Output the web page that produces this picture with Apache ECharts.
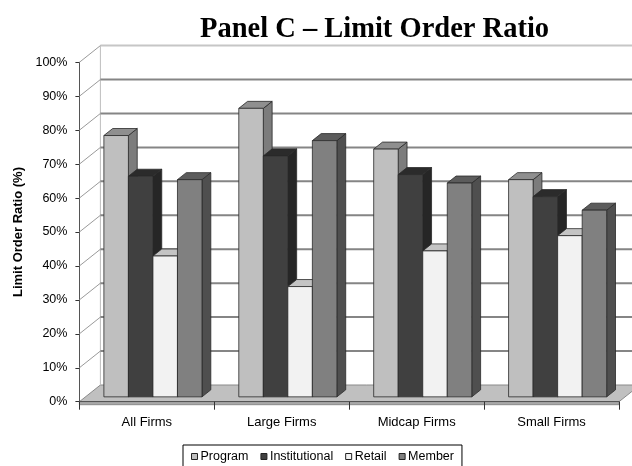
<!DOCTYPE html>
<html>
<head>
<meta charset="utf-8">
<script src="https://cdn.jsdelivr.net/npm/echarts@6/dist/echarts.min.js"></script>
<style>
  html, body { margin: 0; padding: 0; background: #ffffff; }
  #chart { width: 632px; height: 466px; }
</style>
</head>
<body>
<div id="chart"></div>
<script>
// Limit order ratio by firm size and trader type
const categories = ['All Firms', 'Large Firms', 'Midcap Firms', 'Small Firms'];
const seriesNames = ['Program', 'Institutional', 'Retail', 'Member'];
const program = [77, 85, 73, 64];
const institutional = [65, 71, 65.5, 59];
const retail = [41.5, 32.5, 43, 47.5];
const member = [64, 75.5, 63, 55];
const yTicks = [0, 10, 20, 30, 40, 50, 60, 70, 80, 90, 100];

// pseudo-3D projection: full depth offset, and the depth slice the bars occupy
const DX = 21, DY = -16.7;
const F = 0.29, B = 0.71;
const GAP = 1.5; // gap width relative to one bar

const faces = [
  { front: '#bfbfbf', top: '#8f8f8f', side: '#7c7c7c' },
  { front: '#404040', top: '#2b2b2b', side: '#262626' },
  { front: '#f2f2f2', top: '#c4c4c4', side: '#b0b0b0' },
  { front: '#808080', top: '#5c5c5c', side: '#4f4f4f' }
];
const seriesValues = [program, institutional, retail, member];

function wallItem(params, api) {
  const cs = params.coordSys;
  const v = api.value(1);
  const y = api.coord([0, v])[1];
  const children = [];
  const gx0 = cs.x + DX, gx1 = cs.x + cs.width + DX;
  if (v === 0) {
    const yTop = api.coord([0, 100])[1];
    // floor slab
    children.push({
      type: 'polygon',
      shape: { points: [[cs.x, y], [cs.x + cs.width, y], [gx1, y + DY], [gx0, y + DY]] },
      style: { fill: '#c0c0c0', stroke: '#8a8a8a', lineWidth: 1 }
    });
    children.push({
      type: 'rect',
      shape: { x: cs.x, y: y, width: cs.width, height: 3 },
      style: { fill: '#a8a8a8', stroke: '#8a8a8a', lineWidth: 1 }
    });
    // back wall left edge
    children.push({
      type: 'line',
      shape: { x1: gx0, y1: yTop + DY, x2: gx0, y2: y + DY },
      style: { stroke: '#bdbdbd', lineWidth: 1 }
    });
  } else {
    children.push({
      type: 'line',
      shape: { x1: gx0, y1: y + DY, x2: gx1, y2: y + DY },
      style: { stroke: v === 100 ? '#c6c6c6' : '#858585', lineWidth: 2 }
    });
    children.push({
      type: 'line',
      shape: { x1: cs.x, y1: y, x2: gx0, y2: y + DY },
      style: { stroke: '#9a9a9a', lineWidth: 1 }
    });
  }
  return { type: 'group', children: children };
}

function barRenderer(idx) {
  const c = faces[idx];
  return function (params, api) {
    const cat = api.value(0), val = api.value(1);
    const base = api.coord([cat, 0]);
    const top = api.coord([cat, val]);
    const bw = api.size([1, 0])[0];
    const slot = bw / (seriesNames.length + GAP);
    const x0 = base[0] - bw / 2 + slot * (GAP / 2 + idx) + F * DX;
    const x1 = x0 + slot;
    const yb = base[1] + F * DY;
    const yt = top[1] + F * DY;
    const ddx = (B - F) * DX, ddy = (B - F) * DY;
    const stroke = '#2a2a2a';
    return {
      type: 'group',
      children: [
        { type: 'polygon',
          shape: { points: [[x1, yt], [x1 + ddx, yt + ddy], [x1 + ddx, yb + ddy], [x1, yb]] },
          style: { fill: c.side, stroke: stroke, lineWidth: 0.8 } },
        { type: 'polygon',
          shape: { points: [[x0, yt], [x1, yt], [x1 + ddx, yt + ddy], [x0 + ddx, yt + ddy]] },
          style: { fill: c.top, stroke: stroke, lineWidth: 0.8 } },
        { type: 'rect',
          shape: { x: x0, y: yt, width: x1 - x0, height: yb - yt },
          style: { fill: c.front, stroke: stroke, lineWidth: 0.8 } }
      ]
    };
  };
}

const barSeries = seriesNames.map(function (name, i) {
  return {
    name: name,
    type: 'custom',
    renderItem: barRenderer(i),
    itemStyle: { color: faces[i].front, borderColor: '#222', borderWidth: 1 },
    encode: { x: 0, y: 1 },
    data: seriesValues[i].map(function (v, j) { return [j, v]; }),
    z: 3
  };
});

const chart = echarts.init(document.getElementById('chart'), null, { renderer: 'canvas' });
chart.setOption({
  animation: false,
  backgroundColor: '#ffffff',
  title: {
    text: 'Panel C \u2013 Limit Order Ratio',
    left: 195,
    top: 10,
    textStyle: { fontFamily: 'Liberation Serif', fontWeight: 'bold', fontSize: 28.5, color: '#000' }
  },
  legend: {
    data: seriesNames,
    left: 183,
    top: 445,
    icon: 'rect',
    itemWidth: 6,
    itemHeight: 6,
    itemGap: 12,
    padding: [5, 8, 5, 8],
    borderColor: '#000',
    borderWidth: 1,
    itemStyle: { borderColor: '#222', borderWidth: 1 },
    textStyle: { fontFamily: 'Liberation Sans', fontSize: 12.5, color: '#000', padding: [0, 0, 0, -2] }
  },
  grid: { left: 79.4, right: 13, top: 62.3, bottom: 64.3, containLabel: false },
  xAxis: {
    type: 'category',
    data: categories,
    z: 4,
    axisLine: { show: true, lineStyle: { color: '#555', width: 1 } },
    axisTick: { show: true, length: 8, interval: 0, lineStyle: { color: '#333' } },
    axisLabel: { margin: 14, fontFamily: 'Liberation Sans', fontSize: 13, color: '#000' },
    splitLine: { show: false }
  },
  yAxis: {
    type: 'value',
    min: 0,
    max: 100,
    interval: 10,
    name: 'Limit Order Ratio (%)',
    nameLocation: 'middle',
    nameGap: 49,
    nameTextStyle: { fontFamily: 'Liberation Sans', fontWeight: 'bold', fontSize: 13, color: '#000' },
    axisLine: { show: true, lineStyle: { color: '#555', width: 1 } },
    axisTick: { show: true, length: 4, lineStyle: { color: '#333' } },
    axisLabel: { margin: 12, formatter: '{value}%', fontFamily: 'Liberation Sans', fontSize: 12.5, color: '#000' },
    splitLine: { show: false }
  },
  series: [{
    type: 'custom',
    renderItem: wallItem,
    silent: true,
    encode: { x: 0, y: 1 },
    data: yTicks.map(function (v) { return [0, v]; }),
    z: 1
  }].concat(barSeries)
});
</script>
</body>
</html>
